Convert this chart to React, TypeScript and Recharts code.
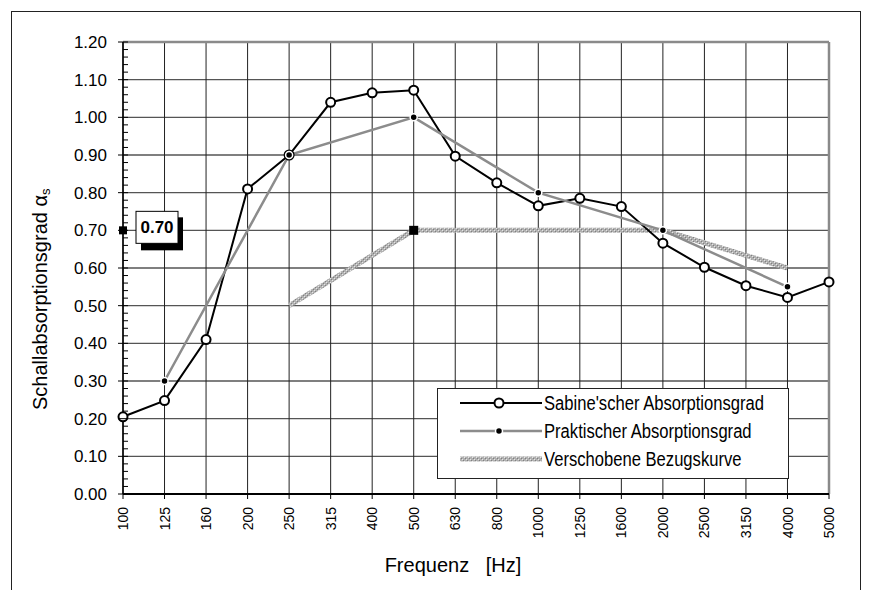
import React from "react";
import { LineChart, Line, XAxis, YAxis, CartesianGrid, ReferenceLine, ReferenceDot, Legend, Label } from "recharts";

const frequencies = ["100", "125", "160", "200", "250", "315", "400", "500", "630", "800", "1000", "1250", "1600", "2000", "2500", "3150", "4000", "5000"];
const sabine = [0.205, 0.248, 0.41, 0.81, 0.9, 1.04, 1.065, 1.072, 0.897, 0.826, 0.765, 0.785, 0.763, 0.666, 0.602, 0.553, 0.522, 0.563];
const practical = [null, 0.3, null, null, 0.9, null, null, 1.0, null, null, 0.8, null, null, 0.7, null, null, 0.55, null];
const reference = [null, null, null, null, 0.5, null, null, 0.7, null, null, 0.7, null, null, 0.7, null, null, 0.6, null];
const shiftedLevel = 0.7;
const yTicks = [0, 0.1, 0.2, 0.3, 0.4, 0.5, 0.6, 0.7, 0.8, 0.9, 1.0, 1.1, 1.2];
const minorTicks = Array.from({ length: 61 }, (_, i) => +(i * 0.02).toFixed(2));

const legendLabels = ["Sabine'scher Absorptionsgrad", "Praktischer Absorptionsgrad", "Verschobene Bezugskurve"];

const data = frequencies.map((f, i) => ({
  f,
  sabine: sabine[i],
  practical: practical[i],
  reference: reference[i],
}));

const font = "'Liberation Sans', Arial, sans-serif";

const YTick = (props: any) => {
  const { x, y, payload } = props;
  const v = payload.value;
  const major = Math.abs(v * 10 - Math.round(v * 10)) < 1e-6;
  return (
    <g>
      <line x1={major ? x - 5 : x} x2={x + 5} y1={y} y2={y} stroke="#000" strokeWidth={1} />
      {major && (
        <text x={x - 16} y={y} dy="0.35em" textAnchor="end" fontSize={17} fontFamily={font} fill="#000">
          {v.toFixed(2)}
        </text>
      )}
    </g>
  );
};

const XTick = (props: any) => {
  const { x, y, payload } = props;
  return (
    <text x={x} y={y} dy="0.36em" textAnchor="end" fontSize={14} fontFamily={font} fill="#000" transform={`rotate(-90 ${x} ${y})`}>
      {payload.value}
    </text>
  );
};

const Square = (props: any) => {
  const { cx, cy } = props;
  return <rect x={cx - 4.5} y={cy - 4.5} width={9} height={9} fill="#000" />;
};

const AxisMarker = (props: any) => {
  const { cx, cy } = props;
  return (
    <g>
      <rect x={cx - 4} y={cy - 4} width={8} height={8} fill="#000" />
      <rect x={cx + 18} y={cy - 13} width={42} height={33} fill="#000" />
      <rect x={cx + 13} y={cy - 19} width={42} height={32} fill="#fff" stroke="#000" strokeWidth={1} />
      <text x={cx + 34} y={cy - 3} dy="0.36em" textAnchor="middle" fontSize={17} fontWeight="bold" fontFamily={font} fill="#000">
        {shiftedLevel.toFixed(2)}
      </text>
    </g>
  );
};

const Swatch = ({ i }: { i: number }) => (
  <svg width={84} height={28} style={{ display: "block" }}>
    {i === 0 && (
      <g>
        <line x1={0} x2={82} y1={14} y2={14} stroke="#000" strokeWidth={2} />
        <circle cx={39} cy={14} r={4.5} fill="#fff" stroke="#000" strokeWidth={2} />
      </g>
    )}
    {i === 1 && (
      <g>
        <line x1={0} x2={82} y1={14} y2={14} stroke="#8c8c8c" strokeWidth={2.5} />
        <circle cx={39} cy={14} r={3.5} fill="#000" stroke="#fff" strokeWidth={1.5} />
      </g>
    )}
    {i === 2 && <rect x={0} y={11.5} width={82} height={5} fill="url(#hatch)" />}
  </svg>
);

const LegendBox = () => (
  <div
    style={{
      width: 352,
      height: 91,
      boxSizing: "border-box",
      border: "1px solid #222",
      background: "#fff",
    }}
  >
    {legendLabels.map((label, i) => (
      <div key={label} style={{ display: "flex", alignItems: "center", height: 28, marginTop: i === 0 ? 0 : 0 }}>
        <div style={{ marginLeft: 22 }}>
          <Swatch i={i} />
        </div>
        <span
          style={{
            fontFamily: font,
            fontSize: 20,
            color: "#000",
            whiteSpace: "nowrap",
            display: "inline-block",
            transform: "scaleX(0.83)",
            transformOrigin: "left center",
          }}
        >
          {label}
        </span>
      </div>
    ))}
  </div>
);

export default function App() {
  return (
    <div style={{ position: "fixed", left: 0, top: 0, width: 869, height: 590, background: "#fff", overflow: "hidden" }}>
      <div
        style={{
          position: "absolute",
          left: 11,
          top: 11,
          width: 848,
          height: 640,
          border: "1.5px solid #222",
        }}
      />
      <div style={{ position: "absolute", left: 0, top: 0 }}>
        <LineChart width={869} height={590} data={data} margin={{ top: 42, right: 40, left: 63, bottom: 36 }}>
          <defs>
            <pattern id="hatch" width="4" height="4" patternUnits="userSpaceOnUse">
              <rect width="4" height="4" fill="#b0b0b0" />
              <rect x="0" y="0" width="1" height="1" fill="#e6e6e6" />
              <rect x="2" y="2" width="1" height="1" fill="#e6e6e6" />
              <rect x="1" y="1" width="1" height="1" fill="#808080" />
              <rect x="3" y="3" width="1" height="1" fill="#808080" />
            </pattern>
          </defs>
          <CartesianGrid horizontal={true} vertical={false} horizontalValues={yTicks} stroke="#555" strokeWidth={1.3} />
          <CartesianGrid horizontal={false} vertical={true} stroke="#222" strokeWidth={1} />
          <ReferenceLine y={1.2} stroke="#8a8a8a" strokeWidth={2.5} />
          <ReferenceLine x="5000" stroke="#8a8a8a" strokeWidth={2.5} />
          <XAxis
            dataKey="f"
            interval={0}
            height={60}
            tickSize={5}
            tickMargin={8}
            tick={<XTick />}
            tickLine={{ stroke: "#000", strokeWidth: 1 }}
            axisLine={{ stroke: "#000", strokeWidth: 2 }}
          >
            <Label
              content={(p: any) => {
                const vb = p.viewBox || { x: 123, y: 494, width: 706 };
                return (
                  <text
                    x={vb.x + vb.width / 2 - 23}
                    y={vb.y + 78}
                    textAnchor="middle"
                    fontSize={20}
                    fontFamily={font}
                    fill="#000"
                    style={{ whiteSpace: "pre" }}
                  >
                    {"Frequenz   [Hz]"}
                  </text>
                );
              }}
            />
          </XAxis>
          <YAxis
            type="number"
            domain={[0, 1.2]}
            ticks={minorTicks}
            interval={0}
            width={60}
            tickSize={0}
            tickMargin={0}
            tickLine={false}
            tick={<YTick />}
            axisLine={{ stroke: "#000", strokeWidth: 1.5 }}
          >
            <Label
              content={() => (
                <text transform="translate(47 410) rotate(-90)" fontSize={20} fontFamily={font} fill="#000">
                  Schallabsorptionsgrad α
                  <tspan fontSize={13} dy={3}>
                    s
                  </tspan>
                </text>
              )}
            />
          </YAxis>
          <Line
            dataKey="reference"
            stroke="url(#hatch)"
            strokeWidth={5}
            dot={false}
            activeDot={false}
            connectNulls
            isAnimationActive={false}
          />
          <Line
            dataKey="sabine"
            stroke="#000"
            strokeWidth={2}
            dot={{ r: 4.5, fill: "#fff", stroke: "#000", strokeWidth: 2 }}
            activeDot={false}
            isAnimationActive={false}
          />
          <Line
            dataKey="practical"
            stroke="#8c8c8c"
            strokeWidth={2.5}
            dot={{ r: 3.5, fill: "#000", stroke: "#fff", strokeWidth: 1.5 }}
            activeDot={false}
            connectNulls
            isAnimationActive={false}
          />
          <ReferenceDot x="500" y={shiftedLevel} shape={<Square />} ifOverflow="visible" />
          <ReferenceDot x="100" y={shiftedLevel} shape={<AxisMarker />} ifOverflow="visible" />
          <Legend
            layout="horizontal"
            verticalAlign="middle"
            align="center"
            content={() => <LegendBox />}
            wrapperStyle={{ left: 437, top: 388, width: 352, height: 91 }}
          />
        </LineChart>
      </div>
    </div>
  );
}
